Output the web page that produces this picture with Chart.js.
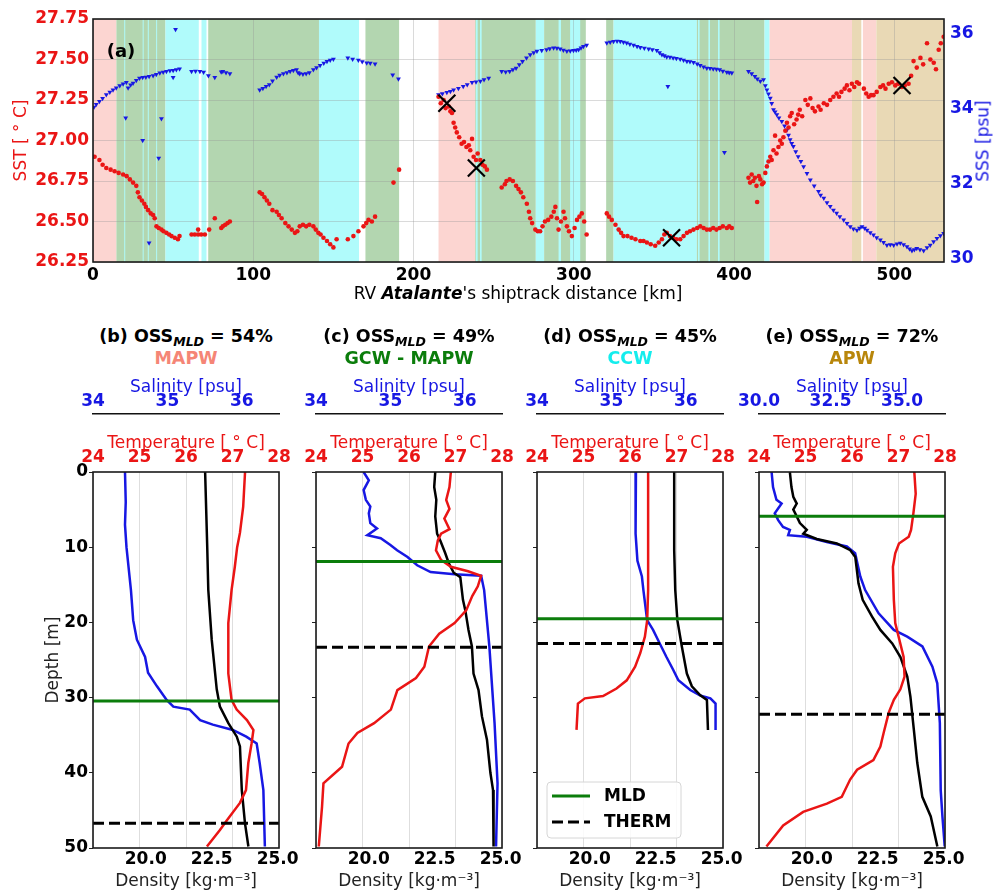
<!DOCTYPE html>
<html>
<head>
<meta charset="utf-8">
<script src="https://cdn.jsdelivr.net/npm/chart.js@4.4.1/dist/chart.umd.min.js"></script>
<style>
  body { margin: 0; background: #fff; width: 1003px; height: 892px; position: relative; overflow: hidden;
         font-family: 'DejaVu Sans', sans-serif; }
  canvas { position: absolute; }
  .lbl { position: absolute; transform: translate(-50%, -50%); white-space: nowrap; line-height: 1; }
  .sub { font-size: 12.5px; font-style: italic; position: relative; top: 4px; }
</style>
</head>
<body>
<canvas id="cA" width="1003" height="300" style="left:0;top:0"></canvas>
<div class="lbl" style="left:121px;top:51px;font-size:18px;font-weight:bold">(a)</div>
<div class="lbl" style="left:518px;top:293px;font-size:17px">RV <b><i>Atalante</i></b>'s shiptrack distance [km]</div>
<div class="lbl" style="left:983px;top:141px;font-size:17px;color:#1717e3;transform:translate(-50%,-50%) rotate(-90deg)">SSS [psu]</div>
<script>
// ---- panel (a): underway SST / SSS along the ship track ----
const sstKm = [1,4,6,8.3,11,13.5,16,18.8,21,23,25,27,28,29,30.5,32,33,34.4,36,37.5,38.5,39.6,41,42.7,44,45.8,47.5,49,51,53,54,
  61.5,63.5,65.6,65.6,67.5,69.8,72.5,76,80,81,82.5,84,85.4,
  104,105.5,107,108.5,110,112,114.6,116,117.7,120,122,124,126,127.5,129,131,133,135,137.5,139,140.6,142,143.8,146,148,150,152,159,162.5,165.6,168.8,170.5,171.9,174,176,187.5,191,
  215.6,217,218.8,220,222,223,224,225,226,227,228.5,230,231.5,233,234.5,235.4,236.5,237.5,239,240,241.7,243,244.5,245.8,
  255,257,258,260,262,264,265.5,267,268.5,270.7,272,272.8,274,276,277.5,279,280.5,282,284,286,287.5,288.5,289.5,290.5,292,293.6,294.5,295.7,297,298.8,300.5,302,303.5,305,306.5,308,
  320.6,322,323.7,326,328,329.5,331,333.5,336,338.5,341.5,343.5,345.6,348,350.8,353,355,356.5,358,360,362,364,366.4,368.5,370.6,372.5,374.7,377,378.9,381,383,385,387,389,391,393,395.5,397,398.6,
  409,410,411,412,413,414,414.4,415.5,416.4,417.5,418.4,419.5,420.5,421.5,422.6,423.5,424.6,425.6,426.5,427.7,428.8,429.8,430.8,432,433,434,435,436,437.5,439,440,441,442.5,444.5,446,447.6,449,450.5,452.7,454,456,458,460,462,464,465.5,467,469,470.4,472,473.5,475,476.7,478,481,482.5,484,485.5,487,489,491.3,493,494.5,496.5,498.5,500.6,502.5,504.7,506.5,508.9,510.5,512,514,516.3,518,520.4,522.5,524.6,526,527.7,529,530.8];
const sstVal = [26.90,26.88,26.85,26.83,26.82,26.81,26.80,26.79,26.78,26.76,26.74,26.72,26.68,26.65,26.63,26.61,26.59,26.57,26.55,26.54,26.52,26.47,26.46,26.45,26.44,26.43,26.42,26.41,26.40,26.39,26.41,
  26.42,26.42,26.45,26.42,26.42,26.42,26.45,26.52,26.46,26.47,26.48,26.49,26.50,
  26.68,26.67,26.65,26.63,26.61,26.57,26.56,26.54,26.52,26.49,26.47,26.45,26.43,26.44,26.47,26.48,26.47,26.48,26.47,26.45,26.43,26.42,26.40,26.38,26.36,26.34,26.39,26.39,26.41,26.44,26.47,26.49,26.51,26.50,26.53,26.74,26.82,
  27.27,27.23,27.25,27.20,27.21,27.18,27.17,27.11,27.08,27.05,27.02,26.98,26.99,26.96,26.97,26.94,27.01,26.90,26.88,26.92,26.88,26.85,26.84,26.82,
  26.71,26.73,26.75,26.76,26.75,26.72,26.70,26.68,26.65,26.61,26.56,26.52,26.49,26.45,26.44,26.44,26.47,26.50,26.51,26.53,26.56,26.59,26.52,26.45,26.50,26.56,26.52,26.47,26.44,26.41,26.46,26.51,26.53,26.55,26.50,26.42,
  26.55,26.53,26.51,26.48,26.45,26.43,26.41,26.41,26.40,26.39,26.38,26.38,26.37,26.36,26.35,26.37,26.39,26.42,26.43,26.41,26.40,26.39,26.39,26.41,26.43,26.44,26.45,26.46,26.47,26.46,26.45,26.45,26.46,26.45,26.46,26.47,26.46,26.47,26.46,
  26.77,26.74,26.79,26.75,26.77,26.72,26.62,26.78,26.76,26.73,26.74,26.80,26.84,26.87,26.90,26.88,26.94,27.03,26.92,26.96,27.00,26.98,27.02,27.06,27.11,27.08,27.15,27.17,27.10,27.13,27.16,27.19,27.15,27.25,27.22,27.26,27.20,27.18,27.21,27.19,27.23,27.22,27.25,27.27,27.29,27.27,27.30,27.32,27.34,27.31,27.35,27.33,27.36,27.35,27.32,27.29,27.27,27.28,27.28,27.30,27.33,27.34,27.32,27.35,27.36,27.34,27.35,27.33,27.34,27.35,27.40,27.49,27.45,27.51,27.47,27.60,27.50,27.48,27.44,27.56,27.60,27.64];

const sssKm = [0.6,2,4,6,8.3,10.5,12.5,14.5,16.7,18.8,20.8,21.9,23.5,25,27,29,31,33,35,37.5,39.5,41.7,43.8,45.8,48,50,52,54,
  20.4,31,42.7,41,35,51.5,50,
  61.5,64,66.7,69,72,76,80,81,83,85.4,
  104,106,108,110,112,114.6,116.5,118.8,121,123,125,127,128,129,131,133,135,137.5,139.5,141.7,144,146,148,150,159,162,165.6,168,170.8,173,176,187,190.6,
  215.6,218,220.8,223,225,228,231,233.5,236.5,239,241.7,244,246.9,
  255,257.5,260,262,264,266,268,270.5,272.8,275,277,280,283,285,287.4,289.5,291.5,293.5,295.7,297.8,299.8,301.5,303,304.5,306,308,
  320.6,322.7,324.8,327,329,331,333,335,337.3,339.5,341.5,344,346.7,349,351.8,353.5,355,356.5,358,360,362,364,366.4,368.5,370.6,372.5,374.7,377,378.9,381,383,385,387,389,391,393,395.5,397,398.6,
  358.7,394,
  409,411,413,414.5,416.4,418.4,419.5,420.5,421.5,422.6,423.5,424.6,425.6,426.7,428,429.8,431.5,433,434,435,436,437,438.5,440,441.7,443.4,445.5,447.6,450,452.7,454,456,458,460,462,464,466,468.4,470.5,472.5,474.5,476.7,478.3,479.8,481.5,483,485,487,489,491.3,493.3,495.4,497.5,499.6,501.7,503.7,505.8,507.9,509.5,511,512.5,514,516,518.3,520.4,522.4,524.5,526.6,528.7,530.8];
const sssVal = [34.05,34.12,34.20,34.28,34.38,34.45,34.51,34.56,34.62,34.67,34.71,34.56,34.64,34.69,34.76,34.82,34.84,34.85,34.87,34.89,34.92,34.96,34.98,35.00,35.02,35.03,35.05,35.07,
  33.76,33.16,33.74,32.69,30.43,36.12,34.84,
  35.00,35.01,35.00,34.98,34.89,34.84,34.99,35.00,34.97,34.94,
  34.51,34.55,34.60,34.65,34.75,34.85,34.90,34.94,34.97,35.00,35.03,35.05,34.97,34.94,34.93,34.94,34.97,35.05,35.10,35.16,35.22,35.27,35.30,35.33,35.36,35.33,35.30,35.26,35.23,35.22,35.20,34.91,34.80,
  34.38,34.41,34.44,34.47,34.51,34.55,34.60,34.65,34.71,34.72,34.74,34.78,34.82,
  35.00,34.99,35.00,35.05,35.09,35.18,35.27,35.36,35.45,35.50,35.54,35.56,35.58,35.61,35.63,35.62,35.60,35.57,35.54,35.55,35.56,35.57,35.58,35.63,35.67,35.70,
  35.76,35.78,35.80,35.81,35.80,35.78,35.76,35.73,35.70,35.67,35.64,35.62,35.60,35.58,35.56,35.50,35.45,35.42,35.39,35.38,35.36,35.35,35.33,35.30,35.27,35.26,35.24,35.20,35.16,35.12,35.09,35.08,35.07,35.06,35.05,35.01,34.98,34.97,34.96,
  34.60,32.84,
  35.00,34.94,34.87,34.80,34.74,34.78,34.62,34.51,34.40,34.29,34.15,33.98,33.92,33.85,33.76,33.67,33.55,33.44,33.30,33.18,33.08,33.00,32.86,32.73,32.60,32.46,32.28,32.11,31.95,31.80,31.70,31.62,31.50,31.40,31.30,31.22,31.13,31.04,30.95,30.86,30.80,30.77,30.82,30.86,30.82,30.77,30.70,30.64,30.57,30.51,30.44,30.37,30.38,30.37,30.40,30.42,30.38,30.33,30.27,30.22,30.25,30.28,30.25,30.22,30.30,30.37,30.46,30.55,30.62,30.68];

const crossKm = [220.8, 239.2, 361, 504.8];
const crossSst = [27.23, 26.83, 26.40, 27.34];

// water-mass shading along the track: P = MAPW, G = GCW, C = CCW, T = APW
const bandStart = [0, 14.6, 19.5, 31, 34.2, 39.4, 45.2, 67.7, 71.9, 141, 170, 215.6, 238.5, 239, 241.5, 276.3, 281.5, 290.5, 297.7, 320.2, 324.8, 376.8, 377.5, 384, 390, 419, 422.2, 473.6, 480.4, 488.8];
const bandEnd   = [14.6, 45.2, 20.1, 31.6, 34.8, 40, 66, 70.8, 141, 166, 191, 238.5, 276.3, 240, 242.5, 281.5, 307.5, 292, 304, 324.8, 376.8, 419, 378.5, 385, 391, 422.2, 473.6, 479.4, 488.8, 531];
const bandKind  = ['P','G','C','C','C','C','C','C','G','C','G','P','G','C','C','C','G','C','C','G','C','G','C','C','C','C','P','T','P','T'];

// ---- panels (b)-(e): profiles, depth in m ----
const bTempDepth = [0,4.6,8.1,10,12.6,15.7,20.1,26.8,30.3,31.6,33,34.3,36.1,38.7,42.3,44,46.3,47.6,49.8];
const bTemp = [27.27,27.23,27.16,27.10,27.05,26.98,26.91,26.91,26.98,27.09,27.31,27.45,27.41,27.34,27.29,27.16,26.88,26.73,26.45];
const bSalDepth = [0,4,7,10,15.7,17,19.7,22.3,24.6,26.7,28.5,30.3,31.2,31.6,33,33.6,34.3,35.2,36.1,38.7,42.3,49.8];
const bSal = [34.43,34.44,34.43,34.45,34.51,34.52,34.54,34.59,34.70,34.74,34.86,34.99,35.08,35.30,35.44,35.61,35.88,36.06,36.20,36.24,36.29,36.31];
const bDensDepth = [0,10,15.7,22.3,28.9,31.2,33.4,35.2,36.5,42.3,46.7,49.8];
const bDens = [22.25,22.33,22.37,22.50,22.69,22.81,23.13,23.45,23.57,23.64,23.76,23.89];

const cTempDepth = [0,2,3.7,4.9,6.2,7.6,8.2,9.1,10.4,11.7,12.6,13.2,13.8,15.2,16.5,18.4,20.1,21.5,23.2,25.9,27.4,29,31.6,33.4,34.7,36.1,39.2,41.4,44.5,49.8];
const cTemp = [26.90,26.87,26.80,26.87,26.76,26.87,26.69,26.62,26.58,26.69,26.90,27.27,27.55,27.48,27.36,27.23,26.98,26.65,26.43,26.33,26.15,25.75,25.61,25.25,24.89,24.70,24.56,24.16,24.13,24.06];
const cSalDepth = [0,1.1,2.4,3.7,4.6,5.5,6.8,7.5,8.4,8.8,9.7,10.4,11.3,12.4,13.3,13.6,13.8,15.7,23.2,33.4,41.4,49.8];
const cSal = [34.64,34.71,34.64,34.67,34.73,34.71,34.73,34.82,34.69,34.87,35.00,35.09,35.23,35.36,35.54,35.86,36.22,36.26,36.33,36.40,36.44,36.42];
const cDensDepth = [0,2,3.7,5.9,8.2,9.1,10.8,12.1,13.4,14,17,18.4,21,23.2,26.8,29,32.5,35.6,40,42.3,49.8];
const cDens = [22.52,22.48,22.56,22.52,22.59,22.71,22.90,23.03,23.22,23.47,23.57,23.66,23.78,23.91,23.97,24.16,24.29,24.48,24.61,24.71,24.73];

const dTempDepth = [0,15.7,19.7,21.9,24.1,25.9,27.7,28.8,29.8,30.1,30.8,34.3];
const dTemp = [26.39,26.39,26.37,26.32,26.22,26.11,25.93,25.71,25.42,25.03,24.88,24.85];
const dSalDepth = [0,3.7,8.2,11.8,13.9,15.7,19.7,21,22.8,24.6,26.3,27.7,29,29.7,30.1,30.8,34.3];
const dSal = [35.33,35.32,35.33,35.35,35.41,35.43,35.48,35.56,35.65,35.74,35.83,35.90,36.06,36.19,36.33,36.40,36.40];
const dDensDepth = [0,10.4,15.7,19.7,23.2,26.8,28.5,29.7,30.3,34.3];
const dDens = [23.20,23.20,23.24,23.32,23.49,23.68,23.87,24.19,24.44,24.48];

const eTempDepth = [0,2.9,5.5,7.7,8.6,9.5,10.8,12.6,17,20.1,24.6,27.2,28.9,30.3,32,34.7,36.5,38.3,39.6,40.9,43.2,44.1,45.2,47,49.8];
const eTemp = [27.34,27.37,27.32,27.27,27.22,27.01,26.93,26.88,26.90,26.93,27.11,27.13,27.04,26.90,26.79,26.68,26.61,26.46,26.11,25.96,25.78,25.46,24.95,24.52,24.16];
const eSalDepth = [0,2,3.7,4.2,5.5,6.4,7.3,7.7,8.4,8.6,9.3,9.9,10.8,13.9,15.7,18.8,21,21.9,23.2,25.9,28.1,33.4,42.3,45.8,49.8];
const eSal = [30.44,30.49,30.61,30.79,30.55,30.67,30.84,31.08,31.02,31.67,32.37,33.07,33.36,33.54,33.71,34.18,34.71,35.18,35.71,36.06,36.23,36.32,36.35,36.41,36.49];
const eDensDepth = [0,2,3.3,4.2,5,5.9,6.8,7.7,8.2,8.9,9.5,10.4,11.3,14.8,17,19.2,21,22.8,24.6,27.2,29.9,34.3,38.7,43.2,45.8,49.8];
const eDens = [19.17,19.23,19.30,19.43,19.30,19.43,19.55,19.81,19.68,20.19,20.95,21.46,21.65,21.77,21.93,22.28,22.60,23.05,23.36,23.62,23.74,23.87,24.00,24.19,24.51,24.76];

const panelTags = ['(b)', '(c)', '(d)', '(e)'];
const ossPercent = [54, 49, 45, 72];
const waterMass = ['MAPW', 'GCW - MAPW', 'CCW', 'APW'];
const mldDepth = [30.45, 11.9, 19.5, 5.9];
const thermDepth = [46.7, 23.3, 22.8, 32.2];
const salMin = [34, 34, 34, 30];
const salStep = [1, 1, 1, 2.5];

const RED = '#ea1515';
const BLUE = '#1717e3';
const GREEN = '#0b7d0b';
const massColors = ['#f58576', '#0b7d0b', '#14eded', '#b8860b'];
const bandColors = { P: 'rgb(252,213,209)', G: 'rgb(179,214,176)', C: 'rgb(176,251,251)', T: 'rgb(233,217,181)' };

Chart.defaults.font.family = "'DejaVu Sans', sans-serif";
Chart.defaults.font.size = 17;
Chart.defaults.animation = false;
Chart.defaults.events = [];
Chart.defaults.plugins.legend.display = false;
Chart.defaults.plugins.tooltip.enabled = false;

const bold = { size: 17, weight: 'bold' };
const pts = (xs, ys) => xs.map((v, i) => ({ x: v, y: ys[i] }));
const prof = (vals, depths) => vals.map((v, i) => ({ x: v, y: depths[i] }));

// black box round every plot area
const framePlugin = {
  id: 'frame',
  afterDatasetsDraw(chart) {
    const { ctx, chartArea: a } = chart;
    ctx.save();
    ctx.strokeStyle = '#1a1a1a';
    ctx.lineWidth = 1.6;
    ctx.strokeRect(a.left, a.top, a.right - a.left, a.bottom - a.top);
    ctx.restore();
  }
};

// shaded water-mass spans behind the grid
const bandPlugin = {
  id: 'bands',
  beforeDraw(chart) {
    const { ctx, chartArea: a, scales: { x } } = chart;
    ctx.save();
    ctx.beginPath();
    ctx.rect(a.left, a.top, a.right - a.left, a.bottom - a.top);
    ctx.clip();
    bandStart.forEach((s, i) => {
      const x0 = x.getPixelForValue(s), x1 = x.getPixelForValue(bandEnd[i]);
      ctx.fillStyle = bandColors[bandKind[i]];
      ctx.fillRect(x0, a.top, x1 - x0, a.bottom - a.top);
    });
    ctx.restore();
  }
};

new Chart(document.getElementById('cA'), {
  type: 'scatter',
  data: {
    datasets: [
      { data: pts(crossKm, crossSst), yAxisID: 'y', pointStyle: 'crossRot', pointRadius: 12,
        pointBorderColor: '#000', pointBorderWidth: 2.2, pointBackgroundColor: '#000' },
      { data: pts(sstKm, sstVal), yAxisID: 'y', pointRadius: 2.3, pointBorderWidth: 0, pointBackgroundColor: RED },
      { data: pts(sssKm, sssVal), yAxisID: 'y2', pointStyle: 'triangle', pointRotation: 180, pointRadius: 2.8,
        pointBorderWidth: 0, pointBackgroundColor: BLUE }
    ]
  },
  options: {
    responsive: false,
    layout: { padding: { top: 19, left: 0, right: 0, bottom: 0 } },
    scales: {
      x: {
        type: 'linear', position: 'bottom', min: 0, max: 531,
        ticks: { stepSize: 100, includeBounds: false, color: '#000', font: bold, padding: 3, maxRotation: 0 },
        grid: { color: 'rgba(150,150,150,0.35)', drawTicks: false },
        border: { display: false },
        afterFit: s => { s.height = 38; }
      },
      y: {
        position: 'left', min: 26.25, max: 27.75,
        ticks: { stepSize: 0.25, color: RED, font: bold, padding: 4, callback: v => v.toFixed(2) },
        grid: { color: 'rgba(150,150,150,0.35)', drawTicks: false },
        border: { display: false },
        title: { display: true, text: 'SST [ ° C]', color: RED, font: { size: 17 }, padding: { top: 11, bottom: 0 } },
        afterFit: s => { s.width = 93; }
      },
      y2: {
        position: 'right', min: 29.92, max: 36.4,
        ticks: { stepSize: 2, includeBounds: false, color: BLUE, font: bold, padding: 6 },
        grid: { drawOnChartArea: false, drawTicks: false },
        border: { display: false },
        afterFit: s => { s.width = 59; }
      }
    }
  },
  plugins: [bandPlugin, framePlugin]
});

// legend box drawn inside panel (d)
const lineLegend = {
  id: 'lineLegend',
  afterDatasetsDraw(chart) {
    const { ctx, chartArea: a } = chart;
    const ds = chart.data.datasets;
    const x = a.left + 10, y = a.bottom - 66;
    ctx.save();
    ctx.fillStyle = 'rgba(255,255,255,0.85)';
    ctx.strokeStyle = '#d6d6d6';
    ctx.lineWidth = 1;
    ctx.beginPath();
    ctx.roundRect(x, y, 134, 56, 4);
    ctx.fill();
    ctx.stroke();
    ctx.font = 'bold 17px "DejaVu Sans"';
    ctx.textBaseline = 'middle';
    [0, 1].forEach(k => {
      const yy = y + 14 + k * 26;
      ctx.strokeStyle = ds[k].borderColor;
      ctx.lineWidth = ds[k].borderWidth;
      ctx.setLineDash(ds[k].borderDash || []);
      ctx.beginPath();
      ctx.moveTo(x + 5, yy);
      ctx.lineTo(x + 43, yy);
      ctx.stroke();
      ctx.setLineDash([]);
      ctx.fillStyle = '#000';
      ctx.fillText(ds[k].label, x + 57, yy + 1);
    });
    ctx.restore();
  }
};

const panelLeft = [93, 316, 537, 759];
const tempSets = [[bTemp, bTempDepth], [cTemp, cTempDepth], [dTemp, dTempDepth], [eTemp, eTempDepth]];
const salSets = [[bSal, bSalDepth], [cSal, cSalDepth], [dSal, dSalDepth], [eSal, eSalDepth]];
const densSets = [[bDens, bDensDepth], [cDens, cDensDepth], [dDens, dDensDepth], [eDens, eDensDepth]];

panelLeft.forEach((left, i) => {
  const first = i === 0;
  const yW = first ? 93 : 8;
  const padL = first ? 0 : 22;
  const cv = document.createElement('canvas');
  cv.width = padL + yW + 186 + 24;
  cv.height = 522;
  cv.style.left = (left - yW - padL) + 'px';
  cv.style.top = '370px';
  document.body.appendChild(cv);

  const cx = left + 93;
  const t1 = document.createElement('div');
  t1.className = 'lbl';
  t1.style.cssText = `left:${cx}px;top:337px;font-size:17.5px;font-weight:bold`;
  t1.innerHTML = `${panelTags[i]} OSS<span class="sub">MLD</span> = ${ossPercent[i]}%`;
  document.body.appendChild(t1);
  const t2 = document.createElement('div');
  t2.className = 'lbl';
  t2.style.cssText = `left:${cx}px;top:359px;font-size:17.5px;font-weight:bold;color:${massColors[i]}`;
  t2.textContent = waterMass[i];
  document.body.appendChild(t2);

  new Chart(cv, {
    type: 'scatter',
    data: {
      datasets: [
        { label: 'MLD', data: [{ x: 24, y: mldDepth[i] }, { x: 28, y: mldDepth[i] }], xAxisID: 'xT',
          showLine: true, borderColor: GREEN, borderWidth: 3, pointRadius: 0 },
        { label: 'THERM', data: [{ x: 24, y: thermDepth[i] }, { x: 28, y: thermDepth[i] }], xAxisID: 'xT',
          showLine: true, borderColor: '#000', borderWidth: 3, borderDash: [11, 5], pointRadius: 0 },
        { data: prof(...tempSets[i]), xAxisID: 'xT', showLine: true, borderColor: RED, borderWidth: 2.5, pointRadius: 0 },
        { data: prof(...densSets[i]), xAxisID: 'xD', showLine: true, borderColor: '#000', borderWidth: 2.5, pointRadius: 0 },
        { data: prof(...salSets[i]), xAxisID: 'xS', showLine: true, borderColor: BLUE, borderWidth: 2.5, pointRadius: 0 }
      ]
    },
    options: {
      responsive: false,
      layout: { padding: { top: 0, left: padL, right: 24, bottom: 0 } },
      scales: {
        xT: {
          type: 'linear', position: 'top', weight: 1, min: 24, max: 28,
          ticks: { stepSize: 1, color: RED, font: bold, padding: 4, maxRotation: 0, autoSkip: false },
          grid: { color: 'rgba(0,0,0,0.13)', drawTicks: false },
          border: { display: false },
          title: { display: true, text: 'Temperature [ ° C]', color: RED, font: { size: 17 }, padding: { top: 19, bottom: 0 } },
          afterFit: s => { s.height = 58; }
        },
        xS: {
          type: 'linear', position: 'top', weight: 2, min: salMin[i], max: 36.5,
          ticks: { stepSize: salStep[i], includeBounds: false, color: BLUE, font: bold, padding: 2, maxRotation: 0, autoSkip: false,
                   callback: v => salStep[i] < 2 ? String(v) : v.toFixed(1) },
          grid: { drawOnChartArea: false, drawTicks: false },
          border: { display: true, color: '#111', width: 1.5 },
          title: { display: true, text: 'Salinity [psu]', color: BLUE, font: { size: 17 }, padding: { top: 7, bottom: 0 } },
          afterFit: s => { s.height = 44; }
        },
        xD: {
          type: 'linear', position: 'bottom', min: 18, max: 25.05,
          ticks: { stepSize: 2.5, includeBounds: false, color: '#000', font: bold, padding: 1, maxRotation: 0, autoSkip: false,
                   callback: v => v.toFixed(1) },
          grid: { drawOnChartArea: false, drawTicks: false },
          border: { display: false },
          title: { display: true, text: 'Density [kg·m⁻³]', color: '#222', font: { size: 17 }, padding: { top: 0, bottom: 0 } },
          afterFit: s => { s.height = 44; }
        },
        y: {
          type: 'linear', position: 'left', reverse: true, min: 0, max: 50,
          ticks: { stepSize: 10, display: first, color: '#000', font: bold, padding: 1 },
          grid: { drawOnChartArea: false, drawTicks: true, tickLength: 4, tickColor: '#222' },
          border: { display: false },
          title: { display: first, text: 'Depth [m]', color: '#222', font: { size: 17 }, padding: { top: 43, bottom: 0 } },
          afterFit: s => { s.width = yW; }
        }
      }
    },
    plugins: i === 2 ? [framePlugin, lineLegend] : [framePlugin]
  });
});
</script>
</body>
</html>
